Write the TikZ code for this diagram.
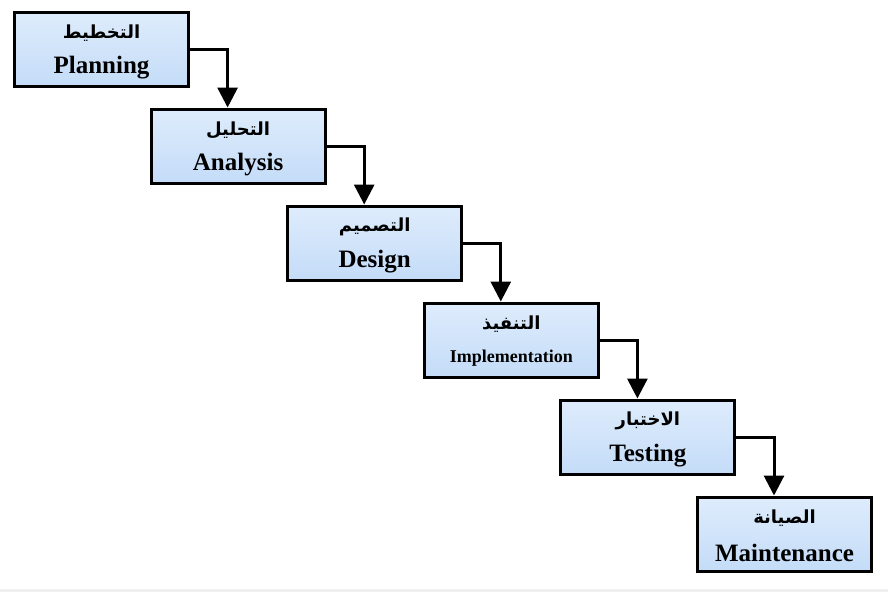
\documentclass[tikz,border=0pt]{standalone}
\usepackage{fontspec}
\setmainfont{Liberation Serif}
\newfontfamily\arabicfont[Script=Arabic]{DejaVu Sans}
\TeXXeTstate=1
\usetikzlibrary{calc,arrows.meta}
\definecolor{boxblue}{RGB}{196,220,248}
\definecolor{boxtop}{RGB}{222,236,252}
\definecolor{stripgray}{RGB}{240,240,240}
\begin{document}
\begin{tikzpicture}[x=1pt,y=-1pt,
  stagebox/.style={draw=black, line width=3pt, minimum width=174pt, minimum height=74pt,
    inner sep=0pt, top color=boxtop, middle color=white, bottom color=boxblue},
  artext/.style={font=\arabicfont\bfseries\fontsize{18}{20}\selectfont, inner sep=0pt},
  entext/.style={font=\bfseries\fontsize{25}{27}\selectfont, inner sep=0pt},
  entextsmall/.style={font=\bfseries\fontsize{18}{20}\selectfont, inner sep=0pt},
  conn/.style={draw=black, line width=3pt, -{Triangle[width=20pt,length=20pt]}}]
\useasboundingbox (0,0) rectangle (888,592);
\fill[stripgray] (0,589) rectangle (888,592);

\node[stagebox] (b1) at (101.5,49) {};
\node[stagebox] (b2) at (238.1,146) {};
\node[stagebox] (b3) at (374.7,243) {};
\node[stagebox] (b4) at (511.3,340) {};
\node[stagebox] (b5) at (647.9,437) {};
\node[stagebox] (b6) at (784.5,534) {};

\node[artext] (a1) at ($(b1)+(0,-16)$) {\beginR التخطيط\endR};
\node[artext] (a2) at ($(b2)+(0,-16)$) {\beginR التحليل\endR};
\node[artext] (a3) at ($(b3)+(0,-16)$) {\beginR التصميم\endR};
\node[artext] (a4) at ($(b4)+(0,-16)$) {\beginR التنفيذ\endR};
\node[artext] (a5) at ($(b5)+(0,-16)$) {\beginR الاختبار\endR};
\node[artext] (a6) at ($(b6)+(0,-16)$) {\beginR الصيانة\endR};

\node[entext] (e1) at ($(b1)+(0,19)$) {Planning};
\node[entext] (e2) at ($(b2)+(0,19)$) {Analysis};
\node[entext] (e3) at ($(b3)+(0,19)$) {Design};
\node[entextsmall] (e4) at ($(b4)+(0,18)$) {Implementation};
\node[entext] (e5) at ($(b5)+(0,19)$) {Testing};
\node[entext] (e6) at ($(b6)+(0,19)$) {Maintenance};

\draw[conn] (b1.east) -| ($(b2.north west)+(78,0)$);
\draw[conn] (b2.east) -| ($(b3.north west)+(78,0)$);
\draw[conn] (b3.east) -| ($(b4.north west)+(78,0)$);
\draw[conn] (b4.east) -| ($(b5.north west)+(78,0)$);
\draw[conn] (b5.east) -| ($(b6.north west)+(78,0)$);
\end{tikzpicture}
\end{document}
